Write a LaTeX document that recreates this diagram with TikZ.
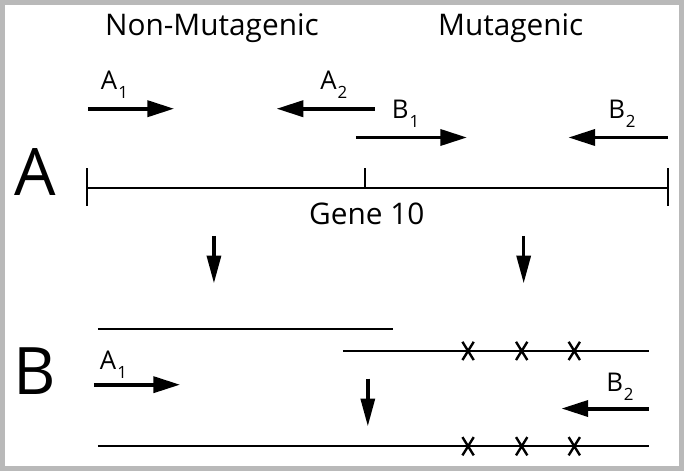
\documentclass[tikz,border=0pt]{standalone}
\usepackage{fontspec}
\setmainfont{Open Sans}
\usetikzlibrary{arrows.meta,shapes.misc}
\tikzset{
  primer/.style={-{Triangle[length=27pt,width=16pt]},line width=4pt},
  drop/.style={-{Triangle[length=28pt,width=14pt]},line width=3.5pt},
  strand/.style={line width=2.4pt},
  gene/.style={line width=2pt},
  tag/.style={inner sep=0pt,font=\fontsize{26}{26}\selectfont,anchor=base west},
  head/.style={inner sep=0pt,font=\fontsize{30}{30}\selectfont,anchor=base},
  panel/.style={inner sep=0pt,font=\fontsize{66}{66}\selectfont,anchor=base west},
  mut/.style={cross out,draw,line width=2.4pt,minimum width=9pt,minimum height=16pt,inner sep=0pt},
}
\newcommand{\pr}[2]{#1\kern1pt\raisebox{-9pt}{\fontsize{17}{17}\selectfont #2}}

\begin{document}
\begin{tikzpicture}[x=1pt,y=-1pt]
  \draw[gray!55,line width=5pt,fill=white] (0,0) rectangle (684,469);
  \useasboundingbox (0,0) rectangle (684,469);

  % headings
  \node[head] (nonmut) at (211,33) {Non-Mutagenic};
  \node[head] (mutag) at (512,33) {Mutagenic};

  % panel A
  \node[panel] (pA) at (12,194) {A};
  \node[tag] (lA1) at (99,88) {\pr{A}{1}};
  \node[tag] (lA2) at (320,88) {\pr{A}{2}};
  \node[tag] (lB1) at (392,117) {\pr{B}{1}};
  \node[tag] (lB2) at (610,117) {\pr{B}{2}};
  \coordinate (a1s) at (86,107);  \coordinate (a1e) at (173,107);
  \coordinate (a2s) at (375,107); \coordinate (a2e) at (276,107);
  \coordinate (b1s) at (356,136); \coordinate (b1e) at (468,136);
  \coordinate (b2s) at (670,136); \coordinate (b2e) at (570,136);
  \draw[primer] (a1s) -- (a1e);
  \draw[primer] (a2s) -- (a2e);
  \draw[primer] (b1s) -- (b1e);
  \draw[primer] (b2s) -- (b2e);

  \coordinate (gl) at (85,187);
  \coordinate (gm) at (365,187);
  \coordinate (gr) at (670,187);
  \draw[gene] (gl) -- (gr);
  \draw[gene] ([yshift=20pt]gl) -- ([yshift=-18pt]gl);
  \draw[gene] ([yshift=20pt]gm) -- (gm);
  \draw[gene] ([yshift=20pt]gr) -- ([yshift=-18pt]gr);
  \node[inner sep=0pt,anchor=base,font=\fontsize{30}{30}\selectfont] (gname) at (367,224) {Gene 10};

  \coordinate (d1s) at (213,235); \coordinate (d1e) at (213,283);
  \coordinate (d2s) at (525,235); \coordinate (d2e) at (525,283);
  \draw[drop] (d1s) -- (d1e);
  \draw[drop] (d2s) -- (d2e);

  % panel B
  \node[panel] (pB) at (11,395) {B};
  \coordinate (s1l) at (96,329);  \coordinate (s1r) at (393,329);
  \coordinate (s2l) at (343,351); \coordinate (s2r) at (651,351);
  \coordinate (s3l) at (96,447);  \coordinate (s3r) at (651,447);
  \draw[strand] (s1l) -- (s1r);
  \draw[strand] (s2l) -- (s2r);
  \draw[strand] (s3l) -- (s3r);
  \foreach \x [count=\i] in {469,523,576} {
    \node[mut] (mt\i) at (\x,351) {};
    \node[mut] (mb\i) at (\x,447) {};
  }

  \node[tag] (lA1b) at (98,370) {\pr{A}{1}};
  \node[tag] (lB2b) at (608,392) {\pr{B}{2}};
  \coordinate (c1s) at (92,385);  \coordinate (c1e) at (179,385);
  \coordinate (c2s) at (651,409); \coordinate (c2e) at (563,409);
  \draw[primer] (c1s) -- (c1e);
  \draw[primer] (c2s) -- (c2e);
  \coordinate (d3s) at (368,379); \coordinate (d3e) at (368,427);
  \draw[drop] (d3s) -- (d3e);
\end{tikzpicture}
\end{document}
